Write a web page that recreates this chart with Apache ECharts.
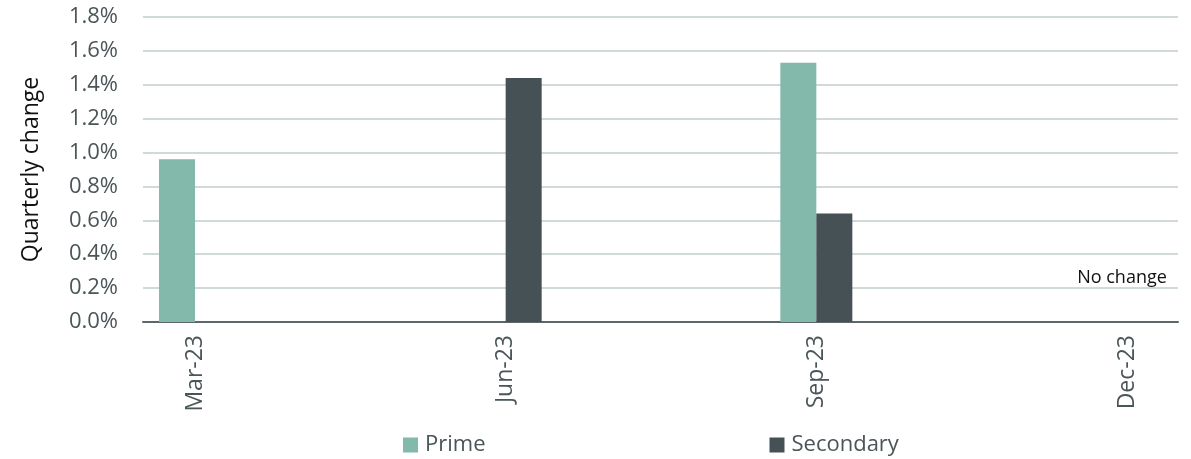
<!DOCTYPE html>
<html><head><meta charset="utf-8">
<script src="https://cdn.jsdelivr.net/npm/echarts@6/dist/echarts.min.js"></script>
<style>html,body{margin:0;padding:0;background:#fff}#c{width:1191px;height:459px}</style>
</head><body><div id="c"></div>
<script>
const categories = ['Mar-23', 'Jun-23', 'Sep-23', 'Dec-23'];
const prime = [0.96, 0, 1.53, 0];
const secondary = [0, 1.44, 0.64, 0];
const yTicks = [0, 0.2, 0.4, 0.6, 0.8, 1.0, 1.2, 1.4, 1.6, 1.8];
const noteText = 'No change';
const noteIndex = 3;

const FONT = 'Open Sans';
const TXT = '#4a5558';
const chart = echarts.init(document.getElementById('c'));
const gTop = 17, gBottom = 459 - 322;
chart.setOption({
  animation: false,
  textStyle: { fontFamily: FONT },
  grid: [
    { left: 143, right: 13, top: gTop, bottom: gBottom },
    { left: 195, right: 64, top: gTop, bottom: gBottom }
  ],
  xAxis: [
    { gridIndex: 0, type: 'category', data: categories, boundaryGap: true,
      axisLine: { lineStyle: { color: '#5d6769', width: 2 } },
      axisTick: { show: false }, axisLabel: { show: false }, splitLine: { show: false } },
    { gridIndex: 1, type: 'category', data: categories, boundaryGap: false,
      axisLine: { show: false }, axisTick: { show: false },
      axisLabel: { rotate: 90, fontSize: 23, color: TXT, margin: 13, fontFamily: FONT } }
  ],
  yAxis: [
    { gridIndex: 0, type: 'value', min: yTicks[0], max: yTicks[yTicks.length - 1], interval: 0.2,
      name: 'Quarterly change', nameLocation: 'middle', nameGap: 100,
      nameTextStyle: { fontSize: 23, color: '#111', fontFamily: FONT },
      axisLine: { show: false }, axisTick: { show: false },
      axisLabel: { fontSize: 22, color: TXT, margin: 25, fontFamily: FONT,
        formatter: v => v.toFixed(1) + '%' },
      splitLine: { lineStyle: { color: '#d2d9d9', width: 2 } } },
    { gridIndex: 1, type: 'value', min: yTicks[0], max: yTicks[yTicks.length - 1], interval: 0.2,
      show: false, splitLine: { show: false } }
  ],
  legend: {
    bottom: -2, left: 398, itemGap: 284, itemWidth: 15, itemHeight: 15,
    icon: 'rect',
    textStyle: { fontSize: 22, color: TXT, fontFamily: FONT, padding: [0, 0, 0, 2] },
    data: ['Prime', 'Secondary']
  },
  series: [
    { name: 'Prime', type: 'bar', xAxisIndex: 1, yAxisIndex: 1, data: prime,
      barWidth: 36, barGap: '0%', itemStyle: { color: '#82b9aa' } },
    { name: 'Secondary', type: 'bar', xAxisIndex: 1, yAxisIndex: 1,
      data: secondary.map((v, i) => i === noteIndex ? {
        value: v,
        label: { show: true, position: 'top', formatter: noteText, offset: [-23, -30],
          fontSize: 18, color: '#111', fontFamily: FONT }
      } : v),
      barWidth: 36, itemStyle: { color: '#455154' } }
  ]
});
</script></body></html>
